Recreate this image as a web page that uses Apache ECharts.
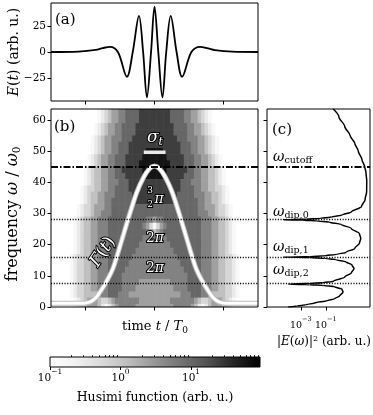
<!DOCTYPE html>
<html><head><meta charset="utf-8">
<script src="https://cdn.jsdelivr.net/npm/echarts@6/dist/echarts.min.js"></script>
<style>html,body{margin:0;padding:0;background:#fff}#c{width:373px;height:415px}</style>
</head><body><div id="c"></div>
<script>
// ---------- data ----------
// (a) electric field E(t)
const fieldTime  = [-3, -2.2, -1.7, -1.5, -1.29, -1.06, -0.8, -0.63, -0.45, -0.33, -0.22, -0.1, 0, 0.11, 0.23, 0.34, 0.47, 0.64, 0.8, 1.07, 1.32, 1.55, 1.75, 2.25, 3];
const fieldValue = [0, 0.4, 2, 3.8, 5, 0, -24, 0, 35, 0, -44, 0, 44, 0, -44, 0, 35, 0, -24, 0, 5, 3.5, 1.8, 0.3, 0];
const fieldTicks = [-25, 0, 25];
const timeTicks = [-2, 0, 2];

// (b) Gamma(t) curve
const gammaTime = [-3, -2.3, -2.0, -1.85, -1.7, -1.58, -1.4, -1.2, -1.0, -0.77, -0.52, -0.32, -0.15, 0, 0.15, 0.32, 0.52, 0.77, 1.0, 1.2, 1.4, 1.58, 1.7, 1.85, 2.0, 2.3, 3];
const gammaFreq = [1.2, 1.2, 1.3, 1.7, 3.0, 4.8, 8, 12.5, 19.5, 28, 36.6, 41.5, 44.3, 45.2, 44.3, 41.5, 36.6, 28, 19.5, 12.5, 8, 4.8, 3.0, 1.7, 1.3, 1.2, 1.2];
const cutoffFreq = 45;
const dipFreqs = [28, 16, 7.5];
const sigmaBarTime = [-0.31, 0.32];
const sigmaBarFreq = 49.6;
const freqTicks = [0, 10, 20, 30, 40, 50, 60];

// (b) Husimi map: rows of grey levels (0 = empty ... 9 = darkest), columns at husimiTimes
const husimiTimes = [-2.4,-2.3,-2.2,-2.1,-2.0,-1.9,-1.8,-1.7,-1.6,-1.5,-1.4,-1.3,-1.2,-1.1,-1.0,-0.9,-0.8,-0.7,-0.6,-0.5,-0.4,-0.3,-0.2,-0.1,0,0.1,0.2,0.3,0.4,0.5,0.6,0.7,0.8,0.9,1.0,1.1,1.2,1.3,1.4,1.5,1.6,1.7,1.8,1.9,2.0,2.1,2.2,2.3,2.4];
const husimiFreqs = [64, 62, 60, 58, 56, 54, 52, 50, 48, 46, 44, 42, 40, 38, 36, 34, 32, 30, 28, 26, 24, 22, 20, 18, 16, 14, 12, 10, 8, 6, 4, 2, 0];
const husimiRows = [
 "0000000012345566777788888888877776655432100000000",
 "0000000012345566777788888888877776655432100000000",
 "0000000012345566777788888888877776655432100000000",
 "0000000123455667777888888888887777665543210000000",
 "0000000123455667777888888888887777665543210000000",
 "0000001234556667778888888888888777666554321000000",
 "0000001234556677788888888888888877766554321000000",
 "0000001234556677788888999998888877766554321000000",
 "0000012345566777888889999999888887776655432100000",
 "0000012345566777888899999999988887776655432100000",
 "0000123445566778888889999999888888776655443210000",
 "0000123445566777888888999998888887776655443210000",
 "0000123445566677788888888888888877766655443210000",
 "0001233445566777788888888888888877776655443321000",
 "0001234455666777778888888888888777776665544321000",
 "0001234455667777777888888888887777777665544321000",
 "0012334555667777777777777777777777777665554332100",
 "0012334556667777777777777777777777777666554332100",
 "0123445566677777777777665667777777777766655443210",
 "0123445566677777777776531356777777777766655443210",
 "0123445566677777777777654567777777777766655443210",
 "0123445566677777777776666666777777777766655443210",
 "0123445566677777777766666666677777777766655443210",
 "0123445566677777777666666666667777777766655443210",
 "1233445566677777776666666666666777777766655443321",
 "1233445566677777766666666666666677777766655443321",
 "1233445566677777666666666666666667777766655443321",
 "1233445566677776666666666666666666777766655443321",
 "1233445566677776666655555555566666777766655443321",
 "1233445566677776666555555555556666777766655443321",
 "1233444456677766655555555555555566677766544443321",
 "0123455543345666666655555555566666665433455543210",
 "0123455542124566666555555555556666654212455543210"
];
const husimiLevelValues = [0, 0.15, 0.3, 0.6, 1.2, 2.5, 5, 10, 25, 60];
const husimiMax = 95;
const colorbarMajor = [0.1, 1, 10];
const colorbarMinor = [0.2,0.3,0.4,0.5,0.6,0.7,0.8,0.9,2,3,4,5,6,7,8,9,20,30,40,50,60,70,80,90];

// (c) spectrum |E(omega)|^2, stored as log10
const spectrumFreq = [0,0.3,0.7,1.3,2,2.7,3.5,4.8,5.7,6.5,6.9,7.15,7.35,7.55,7.8,8.2,9.6,11,12.3,13.5,14.5,15.2,15.6,15.85,16.0,16.15,16.4,16.9,17.5,18.8,20.5,22,23.5,25.2,26.5,27.2,27.6,27.85,28.0,28.15,28.4,28.9,29.5,30.5,32.2,34.5,37,40.5,43,45,47.2,50,52.5,55,57.9,61,63.5];
const spectrumLog10 = [-4.0,-3.3,-2.6,-1.9,-0.9,-0.28,0.1,0.38,0.3,-0.3,-1.2,-2.3,-4.0,-2.3,-1.2,-0.4,0.52,1.05,1.26,1.1,0.6,-0.2,-1.1,-2.3,-4.4,-2.3,-1.1,-0.1,0.6,1.32,1.7,1.8,1.7,1.05,0.2,-0.7,-1.7,-2.8,-4.4,-2.6,-1.5,-0.5,0.3,1.05,1.86,2.15,2.27,2.28,2.22,2.12,1.9,1.6,1.32,0.95,0.52,0.05,-0.4];
const spectrumTicks = [-3, -1];

// ---------- chart ----------
const FONT = "DejaVu Serif";
const GREYS = ['#ffffff','#f0f0f0','#d9d9d9','#bdbdbd','#969696','#737373','#525252','#252525','#000000'];
const cbMin = Math.log10(colorbarMajor[0]), cbMax = Math.log10(husimiMax);

const heatData = [];
husimiRows.forEach((row, r) => {
  for (let i = 0; i < row.length; i++) {
    const lvl = +row[i];
    if (lvl === 0) continue;
    heatData.push([husimiTimes[i], husimiFreqs[r], Math.log10(husimiLevelValues[lvl])]);
  }
});

const chart = echarts.init(document.getElementById('c'), null, {renderer: 'canvas', width: 373, height: 415});

const tickStyle = {show: true, inside: false, length: 3.5, lineStyle: {color: '#000', width: 1}};
const noLine = {show: false, onZero: false};
const frame = {show: true, borderColor: '#000', borderWidth: 1, backgroundColor: 'transparent', z: 10};
const minus = s => String(s).replace('-', '\u2212');
const powRich = (fs, pfs) => ({
  b: {fontFamily: FONT, fontSize: fs, color: '#000', lineHeight: 12, padding: [5, 0, 0, 0], verticalAlign: 'top'},
  p: {fontFamily: FONT, fontSize: pfs, color: '#000', lineHeight: 8, verticalAlign: 'top'}
});
const powLabel = e => '{b|10}{p|' + minus(e) + '}';

const R = (fs, extra) => Object.assign({fontFamily: FONT, fontSize: fs, fill: '#000'}, extra || {});
const I = (fs, extra) => Object.assign({fontFamily: FONT, fontSize: fs, fontStyle: 'italic', fill: '#000'}, extra || {});
const WO = {fill: '#fff', stroke: '#000', lineWidth: 2};
function T(x, y, text, rich, o) {
  o = o || {};
  const st = {text: text, align: o.align || 'center', verticalAlign: o.va || 'middle',
    fontFamily: FONT, fontSize: o.fs || 14, fontStyle: o.italic ? 'italic' : 'normal', fill: o.fill || '#000'};
  if (rich) st.rich = rich;
  if (o.stroke) { st.stroke = o.stroke; st.lineWidth = o.lw || 2; }
  return {type: 'text', x: x, y: y, rotation: o.rot || 0, z: 100, style: st};
}
const SUB = fs => ({padding: [Math.round(fs * 0.75), 0, 0, 0]});

const option = {
  animation: false,
  backgroundColor: '#fff',
  grid: [
    Object.assign({left: 51, top: 3, width: 207, height: 98}, frame),
    Object.assign({left: 51, top: 109, width: 207, height: 198}, frame),
    Object.assign({left: 267, top: 109, width: 103, height: 198}, frame),
    Object.assign({left: 50, top: 357, width: 210, height: 10}, frame)
  ],
  visualMap: [{type: 'continuous', show: false, seriesIndex: 1, dimension: 2, min: cbMin, max: cbMax, inRange: {color: GREYS}}],
  xAxis: [
    {gridIndex: 0, type: 'value', min: -3, max: 3, axisLine: noLine, splitLine: {show: false},
      axisTick: Object.assign({customValues: timeTicks}, tickStyle), axisLabel: {show: false}},
    {gridIndex: 1, type: 'value', min: -3, max: 3, axisLine: noLine, splitLine: {show: false},
      axisTick: Object.assign({customValues: timeTicks}, tickStyle), axisLabel: {show: false}},
    {gridIndex: 2, type: 'value', min: -5.7, max: 2.54, axisLine: noLine, splitLine: {show: false},
      axisTick: Object.assign({customValues: spectrumTicks}, tickStyle),
      axisLabel: {customValues: spectrumTicks, margin: 9, formatter: v => powLabel(v), rich: powRich(9.5, 6.5)}},
    {gridIndex: 3, type: 'value', min: cbMin, max: cbMax, axisLine: noLine, splitLine: {show: false},
      axisTick: Object.assign({customValues: colorbarMajor.map(Math.log10)}, tickStyle, {length: 3}),
      axisLabel: {customValues: colorbarMajor.map(Math.log10), margin: 1, formatter: v => powLabel(Math.round(v)), rich: powRich(10.5, 7.5)}},
    {gridIndex: 3, type: 'value', min: cbMin, max: cbMax, axisLine: noLine, splitLine: {show: false},
      axisTick: Object.assign({customValues: colorbarMinor.map(Math.log10)}, tickStyle, {length: 1.8}),
      axisLabel: {show: false}}
  ],
  yAxis: [
    {gridIndex: 0, type: 'value', min: -47.5, max: 47.5, axisLine: noLine, splitLine: {show: false},
      axisTick: Object.assign({customValues: fieldTicks}, tickStyle),
      axisLabel: {customValues: fieldTicks, margin: 5, fontFamily: FONT, fontSize: 10.5, color: '#000', formatter: v => minus(v)}},
    {gridIndex: 1, type: 'value', min: 0, max: 63.5, axisLine: noLine, splitLine: {show: false},
      axisTick: Object.assign({customValues: freqTicks}, tickStyle),
      axisLabel: {customValues: freqTicks, margin: 5, fontFamily: FONT, fontSize: 10.5, color: '#000'}},
    {gridIndex: 2, type: 'value', min: 0, max: 63.5, axisLine: noLine, splitLine: {show: false},
      axisTick: Object.assign({customValues: freqTicks}, tickStyle), axisLabel: {show: false}},
    {gridIndex: 3, type: 'value', min: 0, max: 1, show: false}
  ],
  series: [
    {type: 'line', xAxisIndex: 0, yAxisIndex: 0, data: fieldTime.map((t, i) => [t, fieldValue[i]]),
      smooth: 0.35, symbol: 'none', lineStyle: {color: '#000', width: 1.8}},
    {type: 'custom', xAxisIndex: 1, yAxisIndex: 1, data: heatData, clip: true, encode: {x: 0, y: 1},
      renderItem: (params, api) => {
        const t = api.value(0), w = api.value(1);
        const p1 = api.coord([t - 0.05, w + 1]);
        const p2 = api.coord([t + 0.05, w - 1]);
        return {type: 'rect', shape: {x: p1[0], y: p1[1], width: p2[0] - p1[0] + 0.6, height: p2[1] - p1[1] + 0.6},
          style: {fill: api.visual('color')}};
      }},
    {type: 'line', xAxisIndex: 1, yAxisIndex: 1, data: gammaTime.map((t, i) => [t, gammaFreq[i]]),
      smooth: 0.3, symbol: 'none', lineStyle: {color: '#bdbdbd', width: 5}},
    {type: 'line', xAxisIndex: 1, yAxisIndex: 1, data: gammaTime.map((t, i) => [t, gammaFreq[i]]),
      smooth: 0.3, symbol: 'none', lineStyle: {color: '#ffffff', width: 3}},
    {type: 'line', xAxisIndex: 1, yAxisIndex: 1, data: sigmaBarTime.map(t => [t, sigmaBarFreq]),
      symbol: 'none', lineStyle: {color: '#e8e8e8', width: 3.5},
      markLine: {silent: true, symbol: 'none', label: {show: false},
        data: [{yAxis: cutoffFreq, lineStyle: {color: '#000', width: 1.8, type: [7, 2, 1.5, 2]}}]
          .concat(dipFreqs.map(v => ({yAxis: v, lineStyle: {color: '#000', width: 1.3, type: [1.1, 1.6]}})))}},
    {type: 'line', xAxisIndex: 2, yAxisIndex: 2, data: spectrumFreq.map((w, i) => [spectrumLog10[i], w]),
      smooth: 0.3, smoothMonotone: 'y', symbol: 'none', lineStyle: {color: '#000', width: 1.5},
      markLine: {silent: true, symbol: 'none', label: {show: false},
        data: [{yAxis: cutoffFreq, lineStyle: {color: '#000', width: 1.8, type: [7, 2, 1.5, 2]}}]
          .concat(dipFreqs.map(v => ({yAxis: v, lineStyle: {color: '#000', width: 1.3, type: [1.1, 1.6]}})))}},
    {type: 'custom', xAxisIndex: 3, yAxisIndex: 3, data: [[cbMin, cbMax]],
      renderItem: (params, api) => {
        const p1 = api.coord([api.value(0), 1]);
        const p2 = api.coord([api.value(1), 0]);
        return {type: 'rect', shape: {x: p1[0], y: p1[1], width: p2[0] - p1[0], height: p2[1] - p1[1]},
          style: {fill: new echarts.graphic.LinearGradient(0, 0, 1, 0,
            GREYS.map((c, i) => ({offset: i / (GREYS.length - 1), color: c})))}};
      }}
  ],
  graphic: [
    T(55, 20, '(a)', null, {align: 'left', fs: 15}),
    T(54, 127, '(b)', null, {align: 'left', fs: 15}),
    T(272, 130, '(c)', null, {align: 'left', fs: 15}),
    T(14, 52, '{i|E}{r|(}{i|t}{r|) (arb. u.)}', {i: I(14), r: R(14)}, {rot: Math.PI / 2}),
    T(13, 214, '{r|frequency }{i|ω}{r| / }{i|ω}{s|0}', {i: I(16), r: R(16), s: R(10.5, SUB(10.5))}, {rot: Math.PI / 2}),
    T(155, 327, '{r|time }{i|t}{r| / }{i|T}{s|0}', {i: I(13), r: R(13), s: R(9, SUB(9))}),
    T(324, 342, '{r||}{i|E}{r|(}{i|ω}{r|)|}{p|2}{r| (arb. u.)}', {i: I(12), r: R(12), p: R(8, {padding: [0, 0, 6, 0]})}),
    T(155, 398, 'Husimi function (arb. u.)', null, {fs: 12.5}),
    // annotations in panel (b)
    T(155, 138, '{i|σ}{s|t}', {i: I(17, WO), s: I(11, Object.assign(SUB(11), WO))}),
    T(150, 191, '3', null, {fs: 9, fill: '#fff', stroke: '#000', lw: 2}),
    T(150, 205, '2', null, {fs: 9, fill: '#fff', stroke: '#000', lw: 2}),
    T(159, 199, '{i|π}', {i: I(14, WO)}),
    T(155, 238, '{r|2}{i|π}', {r: R(14, WO), i: I(14, WO)}),
    T(155, 268, '{r|2}{i|π}', {r: R(14, WO), i: I(14, WO)}),
    T(103, 252, '{i|Γ}{r|(}{i|t}{r|)}', {i: I(17, WO), r: R(17, WO)}, {rot: 56 * Math.PI / 180}),
    // labels in panel (c)
    T(273, 157, '{i|ω}{s|cutoff}', {i: I(14), s: R(9.5, SUB(9.5))}, {align: 'left'}),
    T(273, 212, '{i|ω}{s|dip,0}', {i: I(14), s: R(9.5, SUB(9.5))}, {align: 'left'}),
    T(273, 247, '{i|ω}{s|dip,1}', {i: I(14), s: R(9.5, SUB(9.5))}, {align: 'left'}),
    T(273, 270, '{i|ω}{s|dip,2}', {i: I(14), s: R(9.5, SUB(9.5))}, {align: 'left'})
  ]
};
chart.setOption(option);
</script></body></html>
